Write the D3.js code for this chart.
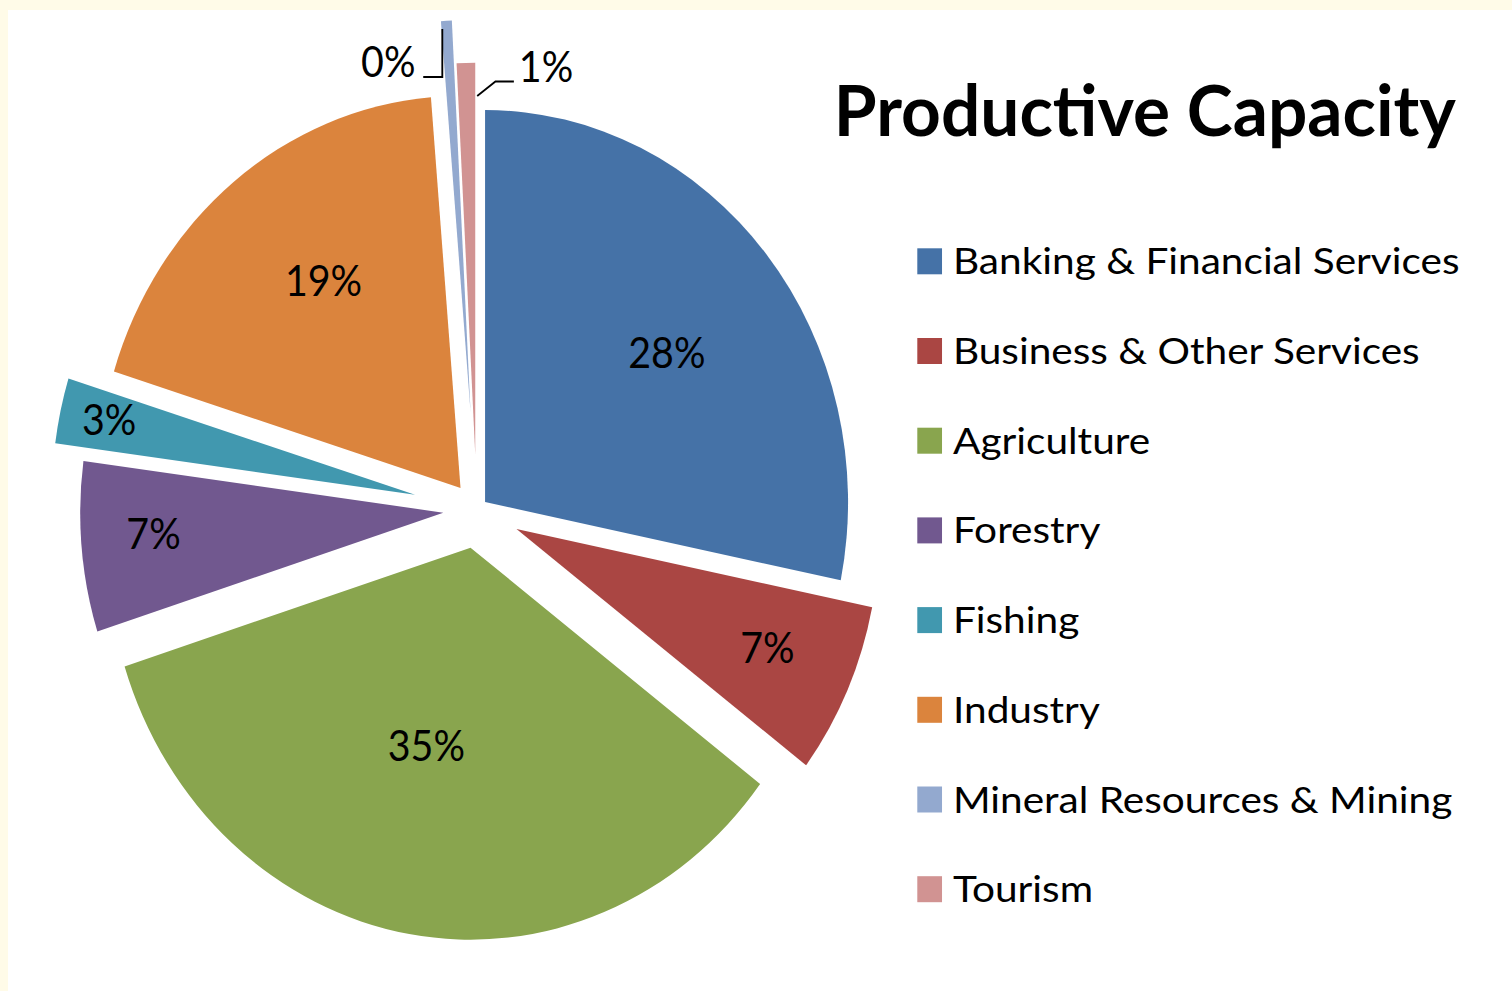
<!DOCTYPE html>
<html><head><meta charset="utf-8">
<script src="https://cdn.jsdelivr.net/npm/d3@7"></script>
<style>html,body{margin:0;padding:0;background:#fff;} svg{display:block;}</style>
</head><body>
<script>
// ---- data ----
const categories = ["Banking & Financial Services","Business & Other Services","Agriculture","Forestry","Fishing","Industry","Mineral Resources & Mining","Tourism"];
const shares = [28.2, 7.1, 34.8, 7.0, 2.7, 18.9, 0.48, 0.82];
const labels = ["28%","7%","35%","7%","3%","19%","0%","1%"];
const colors = ["#4572A7","#AA4643","#89A54E","#71588F","#4198AF","#DB843D","#93A9CF","#D19392"];
const chartTitle = "Productive Capacity";

// ---- layout / style ----
const W = 1512, H = 991, SX = 0.926;
const FONT = "Lato, 'Open Sans', 'Noto Sans', sans-serif";
const cx = 514.65, cy = 509.5, R = 392;
const explode = [11.85, 47.3, 38.7, 36.1, 68.0, 27.7, 97.8, 54.8];
const labelR = [0.63, 0.755, 0.52, 0.8, 0.864, 0.65];
const labelNudgeDeg = [1.9, -0.6, 3.8, 1.25, 0.35, 3.2];
const legendStretch = 1.185, titleStretch = 1.055;

const svg = d3.select("body").append("svg").attr("width", W).attr("height", H);
svg.append("rect").attr("width", W).attr("height", H).attr("fill", "#fff");
svg.append("rect").attr("width", W).attr("height", 10).attr("fill", "#FFFBE8");
svg.append("rect").attr("width", 8).attr("height", H).attr("fill", "#FFFBE8");

const root = svg.append("g").attr("transform", `scale(${SX},1)`);

const pie = d3.pie().sort(null).value(d => d)(shares);
const arc = d3.arc().innerRadius(0).outerRadius(R);
const dir = a => [Math.sin(a), -Math.cos(a)];
const mid = d => (d.startAngle + d.endAngle) / 2;

const g = root.append("g").attr("transform", `translate(${cx},${cy})`);
g.selectAll("path.slice").data(pie).join("path")
  .attr("class", "slice")
  .attr("d", arc)
  .attr("fill", (d, i) => colors[i])
  .attr("transform", (d, i) => {
    const [ux, uy] = dir(mid(d));
    return `translate(${ux * explode[i]},${uy * explode[i]})`;
  });

// inside labels
function labelPos(d, i) {
  const m = mid(d);
  const [ex, ey] = dir(m);
  const [lx, ly] = dir(m + labelNudgeDeg[i] * Math.PI / 180);
  return [ex * explode[i] + lx * labelR[i] * R, ey * explode[i] + ly * labelR[i] * R];
}
g.selectAll("text.inlab").data(pie.slice(0, 6)).join("text")
  .attr("class", "inlab")
  .attr("x", (d, i) => labelPos(d, i)[0])
  .attr("y", (d, i) => labelPos(d, i)[1])
  .attr("dy", "0.36em")
  .attr("text-anchor", "middle")
  .attr("font-family", FONT)
  .attr("font-size", 42.5)
  .attr("fill", "#000")
  .text((d, i) => labels[i]);

// outside labels with leader lines (Mineral, Tourism)
function outer(i) {
  const m = mid(pie[i]);
  const [ux, uy] = dir(m);
  return [ux * (explode[i] + R), uy * (explode[i] + R)];
}
{
  const [ox, oy] = outer(6);
  const s = [ox - 4.4, oy + 8.3];
  const pts = [[s[0], s[1]], [s[0], s[1] + 48], [s[0] - 20.6, s[1] + 48]];
  g.append("path").attr("d", d3.line()(pts)).attr("fill", "none").attr("stroke", "#000").attr("stroke-width", 2);
  g.append("text").attr("x", s[0] - 29).attr("y", s[1] + 48)
    .attr("text-anchor", "end").attr("font-family", FONT).attr("font-size", 42.5).text(labels[6]);
}
{
  const [ox, oy] = outer(7);
  const s = [ox + 12.2, oy + 33.1];
  const pts = [[s[0], s[1]], [s[0] + 19.7, s[1] - 14.4], [s[0] + 39.6, s[1] - 14.4]];
  g.append("path").attr("d", d3.line()(pts)).attr("fill", "none").attr("stroke", "#000").attr("stroke-width", 2);
  g.append("text").attr("x", s[0] + 45).attr("y", s[1] - 14.4)
    .attr("text-anchor", "start").attr("font-family", FONT).attr("font-size", 42.5).text(labels[7]);
}

// title
const t = root.append("text").attr("x", 900.5).attr("y", 136)
  .attr("font-family", FONT).attr("font-weight", 700).attr("font-size", 71)
  .attr("fill", "#000").text(chartTitle);
t.attr("textLength", t.node().getComputedTextLength() * titleStretch).attr("lengthAdjust", "spacingAndGlyphs");

// legend
const leg = root.append("g").selectAll("g").data(categories).join("g")
  .attr("transform", (d, i) => `translate(990.6,${248.3 + i * 89.7})`);
leg.append("rect").attr("width", 26.7).attr("height", 26).attr("fill", (d, i) => colors[i]);
leg.append("text").attr("x", 38.5).attr("y", 26)
  .attr("font-family", FONT).attr("font-size", 37).attr("fill", "#000").text(d => d)
  .each(function () {
    d3.select(this).attr("textLength", this.getComputedTextLength() * legendStretch)
      .attr("lengthAdjust", "spacingAndGlyphs");
  });
</script>
</body></html>
